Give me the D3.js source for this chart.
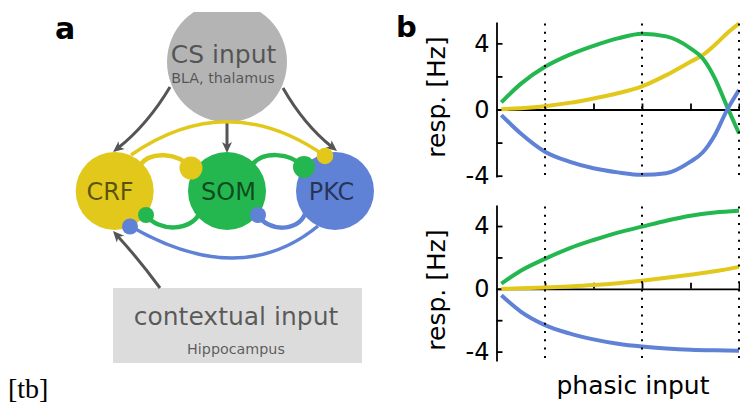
<!DOCTYPE html>
<html><head><meta charset="utf-8">
<script src="https://cdn.jsdelivr.net/npm/d3@7"></script>
<style>
html,body{margin:0;padding:0;background:#fff;overflow:hidden}
svg{display:block}
text{font-family:"DejaVu Sans",sans-serif}
</style>
</head><body>
<svg id="c" width="740" height="407"></svg>
<script>
// ---------- data ----------
const xTicks = [1, 2, 3, 4, 5];
const dottedX = [1, 3, 5];
const yTicks = [-4, -2, 0, 2, 4];
const yTickLabels = {"-4": "-4", "0": "0", "4": "4"};
const yLabel = "resp. [Hz]";
const xLabel = "phasic input";

const xTop   = [0.1, 0.5, 1, 1.5, 2, 2.5, 3, 3.5, 4, 4.25, 4.5, 4.75, 5];
const topCRF = [0.02, 0.08, 0.2, 0.4, 0.67, 0.98, 1.4, 2.08, 2.89, 3.29, 3.9, 4.6, 5.2];
const topSOM = [0.43, 1.55, 2.58, 3.3, 3.85, 4.3, 4.58, 4.42, 3.7, 3.1, 1.9, 0.2, -1.44];
const topPKC = [-0.34, -1.45, -2.55, -3.15, -3.55, -3.8, -3.95, -3.85, -3.15, -2.6, -1.55, -0.05, 1.18];

const xBot   = [0.1, 0.5, 1, 1.5, 2, 2.5, 3, 3.5, 4, 4.5, 5];
const botCRF = [0, 0.03, 0.08, 0.15, 0.24, 0.36, 0.52, 0.7, 0.9, 1.12, 1.4];
const botSOM = [0.33, 1.15, 1.91, 2.58, 3.11, 3.58, 3.96, 4.34, 4.66, 4.86, 4.97];
const botPKC = [-0.41, -1.45, -2.31, -2.84, -3.22, -3.5, -3.68, -3.8, -3.88, -3.92, -3.94];

const populations = ["CRF", "SOM", "PKC"];
const popColors = {CRF: "#e2c81b", SOM: "#24b74f", PKC: "#5f82d6"};
const csLabel = ["CS input", "BLA, thalamus"];
const ctxLabel = ["contextual input", "Hippocampus"];

// ---------- setup ----------
const svg = d3.select("#c");
const defs = svg.append("defs");
defs.append("clipPath").attr("id", "clipTop")
  .append("rect").attr("x", 0).attr("y", 12).attr("width", 740).attr("height", 400);

// ---------- panel a ----------
const A = svg.append("g");
const grey = "#555555";

// CS circle
A.append("circle").attr("cx", 227).attr("cy", 62).attr("r", 60)
  .attr("fill", "#b4b4b4").attr("clip-path", "url(#clipTop)");
A.append("text").attr("x", 223.5).attr("y", 63).attr("text-anchor", "middle")
  .attr("font-size", 25).attr("fill", "#000").attr("fill-opacity", 0.55).text(csLabel[0]);
A.append("text").attr("x", 223).attr("y", 83).attr("text-anchor", "middle")
  .attr("font-size", 14.3).attr("fill", "#000").attr("fill-opacity", 0.55).text(csLabel[1]);

// context box
A.append("rect").attr("x", 113).attr("y", 288).attr("width", 249).attr("height", 75).attr("fill", "#dcdcdc");
A.append("text").attr("x", 236).attr("y", 325).attr("text-anchor", "middle")
  .attr("font-size", 25).attr("fill", "#000").attr("fill-opacity", 0.6).text(ctxLabel[0]);
A.append("text").attr("x", 236).attr("y", 354).attr("text-anchor", "middle")
  .attr("font-size", 14.3).attr("fill", "#000").attr("fill-opacity", 0.6).text(ctxLabel[1]);

// gray arrows
function arrow(p0, p2, bulge) {
  const dx = p2[0] - p0[0], dy = p2[1] - p0[1];
  const L = Math.hypot(dx, dy);
  const nx = dy / L, ny = -dx / L;
  const c = [(p0[0] + p2[0]) / 2 + nx * bulge, (p0[1] + p2[1]) / 2 + ny * bulge];
  let tx = p2[0] - c[0], ty = p2[1] - c[1];
  const tl = Math.hypot(tx, ty); tx /= tl; ty /= tl;
  const end = [p2[0] - tx * 6, p2[1] - ty * 6];
  const p = d3.path();
  p.moveTo(p0[0], p0[1]); p.quadraticCurveTo(c[0], c[1], end[0], end[1]);
  A.append("path").attr("d", p.toString()).attr("fill", "none")
    .attr("stroke", grey).attr("stroke-width", 3);
  const hl = 11, hw = 5, notch = 3;
  const px = -ty, py = tx;
  const b = [p2[0] - tx * hl, p2[1] - ty * hl];
  const n = [p2[0] - tx * (hl - notch), p2[1] - ty * (hl - notch)];
  const h = d3.path();
  h.moveTo(p2[0], p2[1]);
  h.lineTo(b[0] + px * hw, b[1] + py * hw);
  h.lineTo(n[0], n[1]);
  h.lineTo(b[0] - px * hw, b[1] - py * hw);
  h.closePath();
  A.append("path").attr("d", h.toString()).attr("fill", grey);
}
arrow([170, 87], [113, 152], 8);
arrow([227, 122], [227, 153], 0);
arrow([283, 88], [337, 151], -8);
arrow([160, 288], [113, 231], -2);

// connections (behind circles)
const conns = [
  {c: "CRF", w: 3.5, d: "M131,155 Q228,88 325,156"},
  {c: "CRF", w: 4.5, d: "M140,165 C150,151 178,152 191,168"},
  {c: "SOM", w: 4.5, d: "M252,165 C262,151 290,152 304,167"},
  {c: "SOM", w: 4.5, d: "M200,212 C192,232 158,232 146,215"},
  {c: "PKC", w: 4.5, d: "M305,214 C298,232 268,232 258,215"},
  {c: "PKC", w: 3.5, d: "M318,226 Q240,290 130,226"}
];
A.selectAll("path.conn").data(conns).enter().append("path").attr("class", "conn")
  .attr("d", d => d.d).attr("fill", "none")
  .attr("stroke", d => popColors[d.c]).attr("stroke-width", d => d.w);

// population circles
const nodePos = {CRF: [114.7, 191], SOM: [227, 191], PKC: [335, 191]};
const textX = {CRF: 110, SOM: 228.5, PKC: 331.5};
populations.forEach(p => {
  A.append("circle").attr("cx", nodePos[p][0]).attr("cy", nodePos[p][1]).attr("r", 39)
    .attr("fill", popColors[p]);
  A.append("text").attr("x", textX[p]).attr("y", 200).attr("text-anchor", "middle")
    .attr("font-size", 24).attr("fill", "#000").attr("fill-opacity", 0.6).text(p);
});

// synapse dots
const dots = [
  {c: "CRF", x: 191, y: 168, r: 11.5},
  {c: "CRF", x: 325, y: 156, r: 8.3},
  {c: "SOM", x: 304, y: 167, r: 11},
  {c: "SOM", x: 146, y: 215, r: 8},
  {c: "PKC", x: 258, y: 215, r: 8},
  {c: "PKC", x: 130, y: 226.5, r: 8}
];
A.selectAll("circle.dot").data(dots).enter().append("circle").attr("class", "dot")
  .attr("cx", d => d.x).attr("cy", d => d.y).attr("r", d => d.r)
  .attr("fill", d => popColors[d.c]);

// panel labels
svg.append("text").attr("x", 55).attr("y", 39).attr("font-size", 30)
  .attr("font-weight", "bold").text("a");
svg.append("text").attr("x", 396).attr("y", 37).attr("font-size", 29)
  .attr("font-weight", "bold").text("b");
svg.append("text").attr("x", 8).attr("y", 398).attr("font-size", 28)
  .style("font-family", "'Liberation Serif', serif").text("[tb]");

// ---------- panel b ----------
const x = d3.scaleLinear().domain([0, 5.2]).range([496.5, 496.5 + 48.5 * 5.2]);

function subplot(yRange, yDomain, xs, series, labelY) {
  const y = d3.scaleLinear().domain(yDomain).range(yRange);
  const g = svg.append("g");
  g.append("g").attr("transform", `translate(0,${y(0)})`)
    .call(d3.axisBottom(x).tickValues(xTicks).tickSizeInner(-6).tickSizeOuter(0).tickFormat(""))
    .call(s => s.selectAll("path,line").attr("stroke", "#000").attr("stroke-width", 1.8));
  g.append("g").attr("transform", `translate(${x(0)},0)`)
    .call(d3.axisLeft(y).tickValues(yTicks).tickSizeInner(-6).tickSizeOuter(0).tickPadding(7)
      .tickFormat(d => yTickLabels[String(d)] || ""))
    .call(s => s.selectAll("path,line").attr("stroke", "#000").attr("stroke-width", 1.8))
    .call(s => s.selectAll("text").attr("font-size", 24).attr("fill", "#000")
      .style("font-family", "'DejaVu Sans',sans-serif"));
  const line = d3.line().x((d, i) => x(xs[i])).y(d => y(d)).curve(d3.curveMonotoneX);
  series.forEach(s => {
    g.append("path").attr("d", line(s.v)).attr("fill", "none")
      .attr("stroke", popColors[s.c]).attr("stroke-width", 4);
  });
  g.selectAll("line.dot").data(dottedX).enter().append("line")
    .attr("x1", d => x(d)).attr("x2", d => x(d))
    .attr("y1", yRange[1] + 1.5).attr("y2", yRange[0])
    .attr("stroke", "#000").attr("stroke-width", 2).attr("stroke-dasharray", "2,6.3");
  g.append("text").attr("transform", `translate(445,${labelY}) rotate(-90)`)
    .attr("text-anchor", "middle").attr("font-size", 25).text(yLabel);
}

subplot([177, 22], [-4.08, 5.29], xTop,
  [{c: "CRF", v: topCRF}, {c: "SOM", v: topSOM}, {c: "PKC", v: topPKC}], 97);
subplot([361, 205], [-4.6, 5.34], xBot,
  [{c: "CRF", v: botCRF}, {c: "SOM", v: botSOM}, {c: "PKC", v: botPKC}], 290);

svg.append("text").attr("x", 633).attr("y", 394).attr("text-anchor", "middle")
  .attr("font-size", 25).text(xLabel);
</script>
</body></html>
